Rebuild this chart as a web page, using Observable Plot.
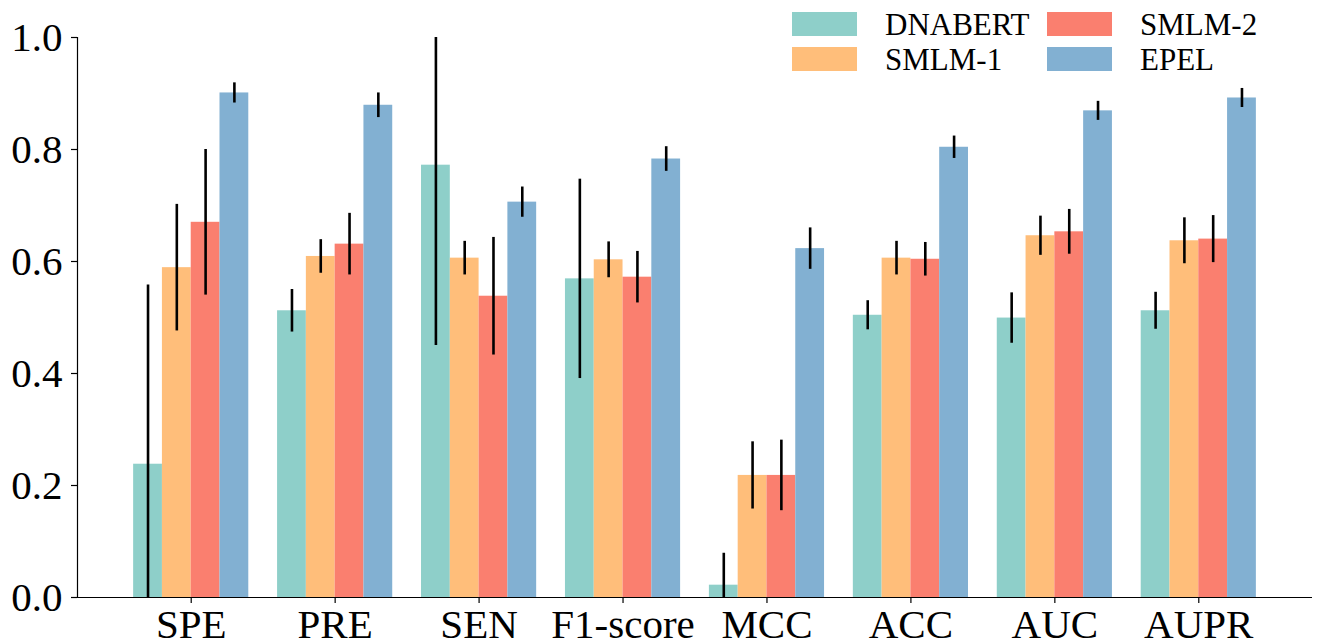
<!DOCTYPE html>
<html>
<head>
<meta charset="utf-8">
<script src="https://cdn.jsdelivr.net/npm/d3@7"></script>
<script src="https://cdn.jsdelivr.net/npm/@observablehq/plot@0.6"></script>
<style>
  html, body { margin: 0; padding: 0; background: white; }
  #wrap { position: relative; width: 1329px; height: 641px; overflow: hidden; }
  #legend { position: absolute; left: 0; top: 0; font-family: "Liberation Serif", "Times New Roman", serif; font-size: 31px; color: black; }
  .item { position: absolute; height: 24px; display: flex; align-items: center; white-space: nowrap; }
  .sw { width: 65px; height: 24px; margin-right: 28px; flex: none; }
  .lab { line-height: 1; }
</style>
</head>
<body>
<div id="wrap"><div id="chart"></div><div id="legend"></div></div>
<script>
const categories = ["SPE", "PRE", "SEN", "F1-score", "MCC", "ACC", "AUC", "AUPR"];
const models = ["DNABERT", "SMLM-1", "SMLM-2", "EPEL"];
const colors = ["#8ECFC9", "#FFBE7A", "#FA7F6F", "#82B0D2"];
const yTicks = [0, 0.2, 0.4, 0.6, 0.8, 1.0];

const dnabert    = [0.238, 0.512, 0.772, 0.569, 0.022, 0.504, 0.499, 0.512];
const dnabertErr = [0.320, 0.038, 0.322, 0.178, 0.057, 0.026, 0.045, 0.033];
const smlm1      = [0.589, 0.609, 0.606, 0.603, 0.218, 0.606, 0.646, 0.637];
const smlm1Err   = [0.113, 0.030, 0.030, 0.032, 0.060, 0.030, 0.035, 0.041];
const smlm2      = [0.670, 0.631, 0.538, 0.572, 0.218, 0.604, 0.653, 0.640];
const smlm2Err   = [0.130, 0.055, 0.105, 0.046, 0.063, 0.030, 0.040, 0.042];
const epel       = [0.901, 0.879, 0.706, 0.783, 0.623, 0.804, 0.869, 0.892];
const epelErr    = [0.018, 0.022, 0.027, 0.022, 0.037, 0.020, 0.017, 0.017];

const values = [dnabert, smlm1, smlm2, epel];
const errs = [dnabertErr, smlm1Err, smlm2Err, epelErr];
const barW = 0.2;

const rows = [];
models.forEach((m, j) => {
  categories.forEach((c, i) => {
    const xc = i + (j - 1.5) * barW;
    rows.push({model: m, cat: c, xc, x1: xc - barW / 2, x2: xc + barW / 2,
               v: values[j][i], lo: values[j][i] - errs[j][i], hi: values[j][i] + errs[j][i]});
  });
});

const xMin = -0.4 - 0.39, xMax = categories.length - 1 + 0.4 + 0.39;

const chart = Plot.plot({
  width: 1329,
  height: 641,
  marginLeft: 77,
  marginRight: 17,
  marginTop: 37,
  marginBottom: 44,
  style: {fontFamily: "'Liberation Serif', 'Times New Roman', serif", color: "black", background: "white", overflow: "visible"},
  x: {type: "linear", domain: [xMin, xMax]},
  y: {domain: [0, 1]},
  color: {domain: models, range: colors},
  marks: [
    Plot.rectY(rows, {x1: "x1", x2: "x2", y1: 0, y2: "v", fill: "model"}),
    Plot.ruleX(rows, {x: "xc", y1: "lo", y2: "hi", stroke: "black", strokeWidth: 2.6, clip: true}),
    Plot.ruleY([0], {stroke: "black", strokeWidth: 1.2}),
    Plot.ruleX([xMin], {y1: 0, y2: 1, stroke: "black", strokeWidth: 1.2}),
    Plot.axisX(d3.range(categories.length), {tickFormat: i => categories[i], tickSize: 6, tickPadding: 5, fontSize: 41, label: null, strokeWidth: 1.2}),
    Plot.axisY(yTicks, {tickFormat: d3.format(".1f"), tickSize: 6, tickPadding: 9, fontSize: 41, label: null, strokeWidth: 1.2})
  ]
});
document.getElementById("chart").appendChild(chart);

const legend = document.getElementById("legend");
models.forEach((m, j) => {
  const col = Math.floor(j / 2), row = j % 2;
  const item = document.createElement("div");
  item.className = "item";
  item.style.left = (792 + col * 255) + "px";
  item.style.top = (12 + row * 35) + "px";
  const sw = document.createElement("div");
  sw.className = "sw";
  sw.style.background = colors[j];
  const lab = document.createElement("span");
  lab.className = "lab";
  lab.textContent = m;
  item.appendChild(sw);
  item.appendChild(lab);
  legend.appendChild(item);
});
</script>
</body>
</html>
